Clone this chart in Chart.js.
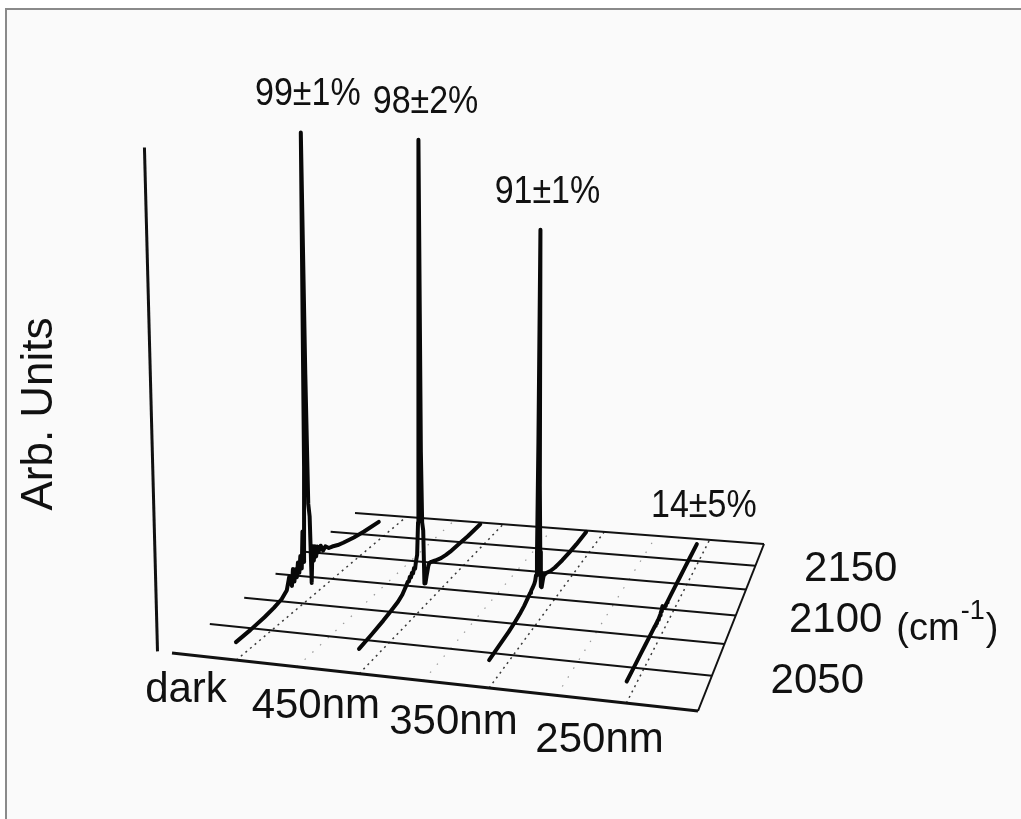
<!DOCTYPE html>
<html>
<head>
<meta charset="utf-8">
<title>IR spectra vs irradiation wavelength</title>
<script src="https://cdn.jsdelivr.net/npm/chart.js@4/dist/chart.umd.min.js"></script>
<style>
  html, body { margin: 0; padding: 0; background: #fff; overflow: hidden; }
  #wrap { width: 1021px; height: 819px; }
</style>
</head>
<body>
<div id="wrap"><canvas id="spectra" width="1021" height="819"></canvas></div>
<script>
// ---- data ----
const categories = ["dark", "450nm", "350nm", "250nm"];
const yieldLabels = ["99±1%", "98±2%", "91±1%", "14±5%"];
const wnTicks = [2050, 2100, 2150];
const gridWn = [2025, 2050, 2075, 2100, 2125, 2150, 2175];

// wavenumber (cm-1) sample points, shared by all four spectra
const wavenumbers = [2025, 2035, 2045, 2052, 2058, 2062, 2064, 2066, 2067, 2068,
  2069, 2070, 2071, 2072, 2073, 2074, 2075, 2076, 2077, 2078,
  2079, 2080, 2081, 2082, 2083, 2084, 2085, 2086, 2087, 2088,
  2090, 2092, 2094, 2097, 2100, 2105, 2110, 2120, 2130, 2145];

// intensities, arb. units
const darkSpec = [0.040, 0.040, 0.042, 0.045, 0.050, 0.060, 0.085, 0.060, 0.095, 0.065,
  0.090, 0.070, 0.100, 0.075, 0.110, 0.080, 0.160, 0.090, 0.300, 1.040,
  0.500, 0.210, 0.180, 0.030, 0.110, 0.075, 0.105, 0.080, 0.100, 0.085,
  0.095, 0.080, 0.085, 0.075, 0.072, 0.065, 0.060, 0.052, 0.046, 0.040];
const nm450Spec = [0.055, 0.058, 0.062, 0.066, 0.070, 0.076, 0.082, 0.088, 0.092, 0.090,
  0.098, 0.094, 0.102, 0.098, 0.108, 0.104, 0.120, 0.130, 0.200, 0.600,
  1.045, 0.350, 0.190, 0.170, 0.050, 0.048, 0.060, 0.070, 0.080, 0.084,
  0.082, 0.079, 0.076, 0.072, 0.068, 0.064, 0.061, 0.058, 0.055, 0.053];
const nm350Spec = [0.062, 0.064, 0.066, 0.069, 0.073, 0.077, 0.080, 0.083, 0.085, 0.086,
  0.088, 0.089, 0.091, 0.092, 0.094, 0.096, 0.100, 0.110, 0.150, 0.400,
  0.870, 0.300, 0.150, 0.070, 0.066, 0.075, 0.083, 0.087, 0.086, 0.085,
  0.082, 0.079, 0.076, 0.073, 0.070, 0.067, 0.064, 0.060, 0.057, 0.055];
const nm250Spec = [0.048, 0.048, 0.048, 0.048, 0.048, 0.048, 0.048, 0.048, 0.048, 0.048,
  0.048, 0.048, 0.048, 0.048, 0.048, 0.049, 0.050, 0.052, 0.054, 0.057,
  0.060, 0.055, 0.051, 0.049, 0.048, 0.048, 0.048, 0.048, 0.048, 0.048,
  0.048, 0.048, 0.048, 0.048, 0.048, 0.048, 0.048, 0.048, 0.048, 0.048];

const spectra = [darkSpec, nm450Spec, nm350Spec, nm250Spec];

// ---- 3d view: floor plane u (sample) x v (wavenumber), heights up ----
const U_MIN = -0.545, U_MAX = 3.5;
const V_MIN = 2025, V_MAX = 2175;
const FLOOR_QUAD = [[172, 653], [698, 711], [764, 544], [355, 513]]; // front-left, front-right, back-right, back-left
const VERT_VP = [470, 12700]; // verticals converge far below
const ZPX = 450;              // pixels per arb. unit
const AXIS_U = -0.67, AXIS_TOP = 1.12;

function squareToQuad(q) {
  const [[x0, y0], [x1, y1], [x2, y2], [x3, y3]] = q;
  const sx = x0 - x1 + x2 - x3, sy = y0 - y1 + y2 - y3;
  const dx1 = x1 - x2, dx2 = x3 - x2, dy1 = y1 - y2, dy2 = y3 - y2;
  const det = dx1 * dy2 - dx2 * dy1;
  const g = (sx * dy2 - dx2 * sy) / det;
  const h = (dx1 * sy - sx * dy1) / det;
  return { a: x1 - x0 + g * x1, b: x3 - x0 + h * x3, c: x0,
           d: y1 - y0 + g * y1, e: y3 - y0 + h * y3, f: y0, g, h };
}
const H = squareToQuad(FLOOR_QUAD);

function project(u, v, z) {
  const s = (u - U_MIN) / (U_MAX - U_MIN);
  const t = (v - V_MIN) / (V_MAX - V_MIN);
  const den = H.g * s + H.h * t + 1;
  const x = (H.a * s + H.b * t + H.c) / den;
  const y = (H.d * s + H.e * t + H.f) / den;
  if (!z) return { x, y };
  const dx = x - VERT_VP[0], dy = y - VERT_VP[1];
  const len = Math.hypot(dx, dy);
  return { x: x + dx / len * z * ZPX, y: y + dy / len * z * ZPX };
}

const INK = "#111";
const datasets = [];

// floor grid: constant-wavenumber lines
gridWn.forEach(wn => {
  datasets.push({
    data: [project(U_MIN, wn), project(U_MAX, wn)],
    borderColor: INK, borderWidth: wn === V_MIN ? 3 : 2, order: 3
  });
});
// right edge
datasets.push({ data: [project(U_MAX, V_MIN), project(U_MAX, V_MAX)], borderColor: INK, borderWidth: 2, order: 3 });
// dotted sample lines
categories.forEach((c, i) => {
  datasets.push({ data: [project(i, V_MIN), project(i, V_MAX)], borderColor: "#3a3a3a",
    borderWidth: 1.5, borderDash: [2, 4], order: 4 });
  if (i < categories.length - 1) {
    datasets.push({ data: [project(i + 0.5, V_MIN), project(i + 0.5, V_MAX)], borderColor: "#999",
      borderWidth: 1.2, borderDash: [1.5, 9], order: 4 });
  }
});
// vertical (intensity) axis
datasets.push({ data: [project(AXIS_U, V_MIN, 0), project(AXIS_U, V_MIN, AXIS_TOP)], borderColor: INK, borderWidth: 3, order: 2 });

// spectra
spectra.forEach((spec, i) => {
  datasets.push({
    label: categories[i],
    data: wavenumbers.map((wn, k) => project(i, wn, spec[k])),
    borderColor: "#080808", borderWidth: 4, borderJoinStyle: "round", borderCapStyle: "round",
    order: 0
  });
});

const FONT = "'Liberation Sans', Arial, sans-serif";

const textPlugin = {
  id: "figText",
  beforeDraw(chart) {
    const ctx = chart.ctx;
    ctx.save();
    ctx.fillStyle = "#ffffff";
    ctx.fillRect(0, 0, chart.width, chart.height);
    ctx.fillStyle = "#fafafa";
    ctx.fillRect(6, 9, chart.width - 6, chart.height - 9);
    ctx.strokeStyle = "#8a8a8a";
    ctx.lineWidth = 2;
    ctx.beginPath();
    ctx.moveTo(6, chart.height);
    ctx.lineTo(6, 9);
    ctx.lineTo(chart.width, 9);
    ctx.stroke();
    ctx.restore();
  },
  afterDraw(chart) {
    const ctx = chart.ctx;
    const xs = chart.scales.x, ys = chart.scales.y;
    const px = p => ({ x: xs.getPixelForValue(p.x), y: ys.getPixelForValue(p.y) });
    ctx.save();
    ctx.fillStyle = "#111";

    // sample labels along the front edge
    ctx.font = "42px " + FONT;
    ctx.textAlign = "center";
    ctx.textBaseline = "alphabetic";
    categories.forEach((c, i) => {
      const p = px(project(i, V_MIN - 0.2 * (V_MAX - V_MIN)));
      ctx.fillText(c, p.x - 3, p.y + 2);
    });

    // wavenumber ticks on the right
    ctx.textAlign = "left";
    ctx.textBaseline = "middle";
    wnTicks.forEach(wn => {
      const p = px(project(U_MAX + 0.42, wn));
      ctx.fillText(String(wn), p.x, p.y);
      if (wn === 2100) {
        let x = p.x + ctx.measureText(String(wn)).width + 14;
        const base = p.y + 20;
        ctx.textBaseline = "alphabetic";
        ctx.font = "38px " + FONT;
        ctx.fillText("(cm", x, base);
        x += ctx.measureText("(cm").width + 1;
        ctx.font = "27px " + FONT;
        ctx.fillText("-1", x, base - 21);
        x += ctx.measureText("-1").width + 1;
        ctx.font = "38px " + FONT;
        ctx.fillText(")", x, base);
        ctx.font = "42px " + FONT;
        ctx.textBaseline = "middle";
      }
    });

    // yield labels above the highest point of each trace
    ctx.font = "34px " + FONT;
    ctx.textAlign = "center";
    ctx.textBaseline = "alphabetic";
    spectra.forEach((spec, i) => {
      const meta = chart.getDatasetMeta(datasets.length - spectra.length + i);
      let top = null;
      meta.data.forEach(el => { if (!top || el.y < top.y) top = el; });
      ctx.save();
      ctx.translate(top.x + 7, top.y - 27);
      ctx.scale(1, 1.12);
      ctx.fillText(yieldLabels[i], 0, 0);
      ctx.restore();
    });

    // axis title
    ctx.translate(40, 414);
    ctx.rotate(-Math.PI / 2);
    ctx.font = "44px " + FONT;
    ctx.textAlign = "center";
    ctx.textBaseline = "middle";
    ctx.fillText("Arb. Units", 0, 0);
    ctx.restore();
  }
};

new Chart(document.getElementById("spectra"), {
  type: "scatter",
  data: { datasets: datasets.map(d => Object.assign({ showLine: true, pointRadius: 0, tension: 0, clip: false, fill: false }, d)) },
  options: {
    responsive: false,
    devicePixelRatio: 1,
    animation: false,
    layout: { padding: 0 },
    plugins: { legend: { display: false }, tooltip: { enabled: false } },
    scales: {
      x: { type: "linear", min: 0, max: 1021, display: false },
      y: { type: "linear", min: 0, max: 819, reverse: true, display: false }
    }
  },
  plugins: [textPlugin]
});
</script>
</body>
</html>
